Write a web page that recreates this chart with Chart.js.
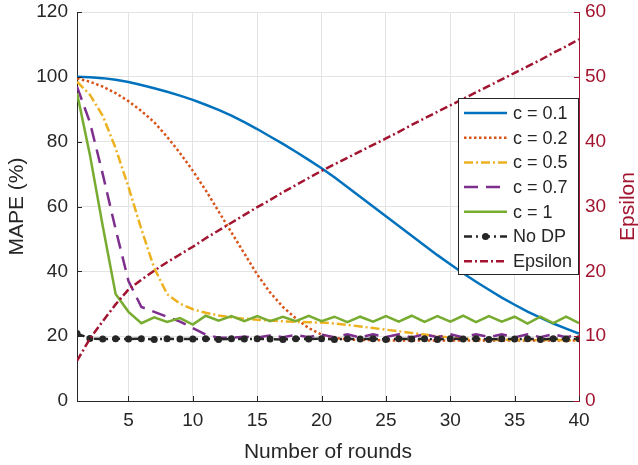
<!DOCTYPE html>
<html>
<head>
<meta charset="utf-8">
<script src="https://cdn.jsdelivr.net/npm/chart.js@4.4.1/dist/chart.umd.min.js"></script>
<style>
  html, body { margin: 0; padding: 0; background: #fff; }
  #wrap { width: 638px; height: 465px; }
</style>
</head>
<body>
<div id="wrap"><canvas id="myChart" width="638" height="465"></canvas></div>
<script>
// data
const rounds = [1, 2, 3, 4, 5, 6, 7, 8, 9, 10, 11, 12, 13, 14, 15, 16, 17, 18, 19, 20,
  21, 22, 23, 24, 25, 26, 27, 28, 29, 30, 31, 32, 33, 34, 35, 36, 37, 38, 39, 40];
const xTicks = [5, 10, 15, 20, 25, 30, 35, 40];
const mapeTicks = [0, 20, 40, 60, 80, 100, 120];
const epsTicks = [0, 10, 20, 30, 40, 50, 60];

const seriesNames = ["c = 0.1", "c = 0.2", "c = 0.5", "c = 0.7", "c = 1", "No DP", "Epsilon"];

const c01 = [100, 99.9, 99.6, 99.1, 98.4, 97.5, 96.5, 95.4, 94.2, 92.9,
  91.4, 89.8, 88.0, 86.0, 83.9, 81.6, 79.3, 76.9, 74.4, 71.8,
  69.0, 66.0, 63.0, 60.0, 57.0, 54.0, 51.0, 48.0, 45.0, 42.2,
  39.4, 36.8, 34.3, 31.9, 29.7, 27.6, 25.7, 23.9, 22.3, 20.8];
const c02 = [99.5, 98.5, 97, 95, 92.5, 89.5, 86, 81.5, 76.5, 71,
  65, 58.5, 52, 45.5, 39, 33.5, 29, 25.5, 22.5, 20.5,
  19.5, 19.0, 18.8, 18.8, 18.7, 18.7, 18.7, 18.7, 18.7, 18.7,
  18.7, 18.7, 18.7, 18.7, 18.7, 18.7, 18.7, 18.7, 18.7, 18.7];
const c05 = [98.5, 94.5, 88, 78, 66, 53, 41, 33, 30, 28.3,
  27.2, 26.4, 25.8, 25.4, 25.1, 24.8, 24.6, 24.4, 24.3, 24.2,
  23.9, 23.5, 23.0, 22.5, 22.0, 21.5, 21.0, 20.5, 20.0, 19.6,
  19.3, 19.1, 19.0, 18.9, 18.9, 18.8, 18.8, 18.8, 18.8, 18.8];
const c07 = [97, 86, 70, 53, 37, 29, 27.5, 26, 24.5, 22.5,
  20.5, 19.5, 19.5, 19.8, 19.6, 20.2, 19.7, 20.4, 19.7, 20.5,
  19.7, 20.6, 19.6, 20.6, 19.7, 20.6, 19.6, 20.6, 19.7, 20.6,
  19.6, 20.6, 19.7, 20.6, 19.6, 20.6, 19.7, 20.6, 19.7, 20.4];
const c1 = [95, 76, 54, 33, 27.5, 24, 25.8, 24.4, 25.6, 23.6,
  26.3, 24.8, 26.2, 24.6, 26.2, 24.6, 26.0, 24.6, 26.3, 24.6,
  26.0, 24.3, 26.0, 24.5, 26.2, 24.5, 26.3, 24.4, 26.2, 24.5,
  26.3, 24.3, 26.2, 24.5, 26.0, 23.9, 26.0, 24.0, 26.0, 24.0];
const noDP = [20.8, 19.3, 19.1, 19.2, 19.1, 19.2, 19.0, 19.2, 19.1, 19.1,
  19.2, 19.0, 19.2, 19.1, 19.2, 19.1, 19.0, 19.2, 19.1, 19.2,
  19.0, 19.2, 19.1, 19.2, 19.0, 19.2, 19.1, 19.2, 19.0, 19.2,
  19.1, 19.2, 19.0, 19.2, 19.1, 19.2, 19.0, 19.2, 19.1, 19.2];
const epsilon = [6.2, 9.6, 12.3, 14.9, 17.2, 18.7, 20.1, 21.4, 22.6, 23.8,
  25.1, 26.3, 27.5, 28.7, 29.9, 31.0, 32.2, 33.3, 34.4, 35.5,
  36.5, 37.5, 38.5, 39.5, 40.5, 41.5, 42.6, 43.6, 44.6, 45.6,
  46.6, 47.6, 48.6, 49.6, 50.6, 51.6, 52.6, 53.7, 54.7, 55.8];

const colors = ["#0072BD", "#D95319", "#EDB120", "#7E2F8E", "#77AC30", "#262626", "#A2142F"];
const dashes = [[], [2.5, 2.5], [9, 3, 2, 3], [14, 8], [], [8, 4, 2, 4], [8, 3, 2, 3]];
const allSeries = [c01, c02, c05, c07, c1, noDP, epsilon];

const FONT = "'Liberation Sans', Arial, sans-serif";
const AXIS_GRAY = "#262626";
const EPS_RED = "#A2142F";

const datasets = allSeries.map((vals, i) => ({
  label: seriesNames[i],
  data: rounds.map((r, k) => ({ x: r, y: vals[k] })),
  borderColor: colors[i],
  backgroundColor: colors[i],
  borderWidth: 2.5,
  borderDash: dashes[i],
  pointRadius: i === 5 ? 3.5 : 0,
  pointBorderWidth: 0,
  tension: 0,
  yAxisID: i === 6 ? "y1" : "y",
  order: allSeries.length - i,
}));

// inward ticks, right axis title and the boxed legend, drawn after the chart
const matlabFrame = {
  id: "matlabFrame",
  afterDraw(chart) {
    const { ctx, chartArea: a, scales } = chart;
    ctx.save();
    ctx.lineWidth = 1;
    // ticks pointing inward
    ctx.strokeStyle = AXIS_GRAY;
    scales.x.ticks.forEach((t) => {
      const px = Math.round(scales.x.getPixelForValue(t.value)) + 0.5;
      ctx.beginPath(); ctx.moveTo(px, a.bottom); ctx.lineTo(px, a.bottom - 5); ctx.stroke();
    });
    scales.y.ticks.forEach((t) => {
      const py = Math.round(scales.y.getPixelForValue(t.value)) + 0.5;
      ctx.beginPath(); ctx.moveTo(a.left, py); ctx.lineTo(a.left + 5, py); ctx.stroke();
    });
    ctx.strokeStyle = EPS_RED;
    scales.y1.ticks.forEach((t) => {
      const py = Math.round(scales.y1.getPixelForValue(t.value)) + 0.5;
      ctx.beginPath(); ctx.moveTo(a.right, py); ctx.lineTo(a.right - 5, py); ctx.stroke();
    });

    // right axis title, reading bottom to top
    ctx.fillStyle = EPS_RED;
    ctx.font = "21px " + FONT;
    ctx.textAlign = "center";
    ctx.textBaseline = "middle";
    ctx.translate(628, (a.top + a.bottom) / 2);
    ctx.rotate(-Math.PI / 2);
    ctx.fillText("Epsilon", 0, 0);
    ctx.setTransform(1, 0, 0, 1, 0, 0);

    // legend
    const boxR = a.right - 1, boxW = 120, boxT = 98, rowH = 24.7, boxH = 176;
    const boxL = boxR - boxW;
    ctx.fillStyle = "#fff";
    ctx.fillRect(boxL, boxT, boxW, boxH);
    ctx.strokeStyle = AXIS_GRAY;
    ctx.lineWidth = 1;
    ctx.strokeRect(Math.round(boxL) + 0.5, boxT + 0.5, boxW, boxH);
    ctx.font = "18px " + FONT;
    ctx.textAlign = "left";
    ctx.textBaseline = "middle";
    chart.data.datasets.forEach((ds, i) => {
      const cy = boxT + 15 + i * rowH;
      ctx.save();
      ctx.strokeStyle = ds.borderColor;
      ctx.lineWidth = 2.5;
      ctx.setLineDash(ds.borderDash);
      ctx.beginPath(); ctx.moveTo(boxL + 6, cy); ctx.lineTo(boxL + 49, cy); ctx.stroke();
      if (ds.pointRadius > 0) {
        ctx.fillStyle = ds.borderColor;
        ctx.beginPath(); ctx.arc(boxL + 27.5, cy, 3.5, 0, Math.PI * 2); ctx.fill();
      }
      ctx.restore();
      ctx.fillStyle = AXIS_GRAY;
      ctx.fillText(ds.label, boxL + 55, cy + 1);
    });
    ctx.restore();
  },
};

const config = {
  type: "line",
  data: { datasets },
  options: {
    responsive: false,
    animation: false,
    layout: { padding: { top: 12, right: 0, left: 5, bottom: 0 } },
    plugins: {
      legend: { display: false },
      tooltip: { enabled: false },
    },
    scales: {
      x: {
        type: "linear",
        min: 1,
        max: 40,
        afterBuildTicks: (s) => { s.ticks = xTicks.map((v) => ({ value: v })); },
        afterFit: (s) => { s.height = 64; s.paddingLeft = 0; s.paddingRight = 0; },
        grid: { color: "#e3e3e3", drawTicks: false },
        border: { color: AXIS_GRAY, width: 1 },
        ticks: { color: AXIS_GRAY, font: { family: FONT, size: 19 }, padding: 8, maxRotation: 0 },
        title: {
          display: true, text: "Number of rounds", color: AXIS_GRAY,
          font: { family: FONT, size: 21 }, padding: { top: 2, bottom: 0 },
        },
      },
      y: {
        position: "left",
        min: 0,
        max: 120,
        afterBuildTicks: (s) => { s.ticks = mapeTicks.map((v) => ({ value: v })); },
        afterFit: (s) => { s.width = 72; s.paddingTop = 0; s.paddingBottom = 0; },
        grid: { color: "#e3e3e3", drawTicks: false },
        border: { color: AXIS_GRAY, width: 1 },
        ticks: { color: AXIS_GRAY, font: { family: FONT, size: 19 }, padding: 9 },
        title: {
          display: true, text: "MAPE (%)", color: AXIS_GRAY,
          font: { family: FONT, size: 21 }, padding: { top: 0, bottom: 4 },
        },
      },
      y1: {
        position: "right",
        min: 0,
        max: 60,
        afterBuildTicks: (s) => { s.ticks = epsTicks.map((v) => ({ value: v })); },
        afterFit: (s) => { s.width = 59; s.paddingTop = 0; s.paddingBottom = 0; },
        grid: { display: false, drawTicks: false },
        border: { color: EPS_RED, width: 1 },
        ticks: { color: EPS_RED, font: { family: FONT, size: 19 }, padding: 6 },
      },
    },
  },
  plugins: [matlabFrame],
};

const myChart = new Chart(document.getElementById("myChart"), config);
</script>
</body>
</html>
